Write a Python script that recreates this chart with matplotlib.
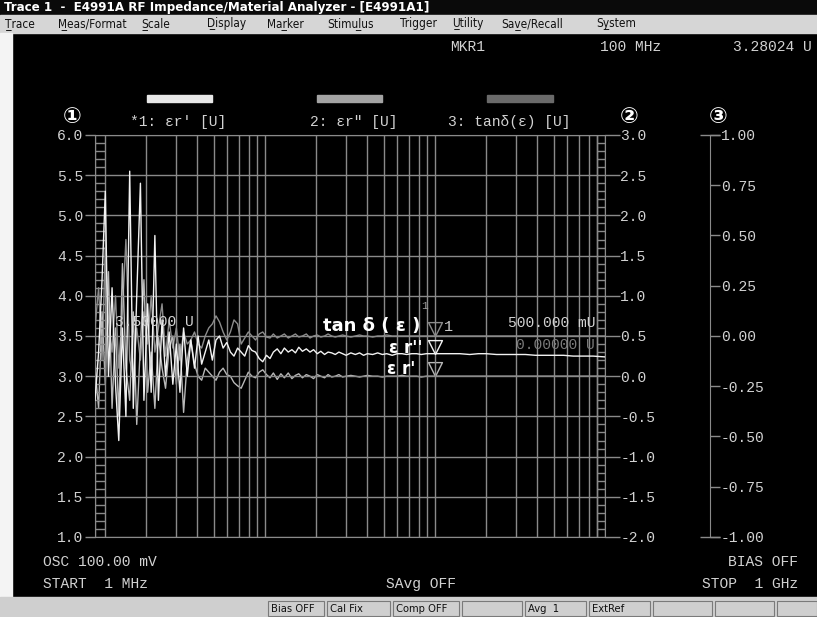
import numpy as np
import matplotlib
matplotlib.use('Agg')
import matplotlib.pyplot as plt
from matplotlib.patches import Rectangle
from matplotlib.path import Path
from matplotlib.ticker import MultipleLocator, FormatStrFormatter, LogLocator, FixedLocator, NullFormatter

plt.rcParams['axes.unicode_minus'] = False

freq_mhz = [
    1.00, 1.05, 1.10, 1.15, 1.20, 1.26, 1.32, 1.38, 1.45, 1.52,
    1.60, 1.68, 1.76, 1.85, 1.94, 2.04, 2.14, 2.25, 2.36, 2.48,
    2.60, 2.73, 2.87, 3.01, 3.16, 3.32, 3.49, 3.66, 3.85, 4.04,
    4.24, 4.45, 4.67, 4.90, 5.15, 5.40, 5.67, 5.96, 6.26, 6.57,
    6.90, 7.24, 7.60, 7.98, 8.38, 8.80, 9.24, 9.70, 10.2, 10.7,
    11.2, 11.8, 12.4, 13.0, 13.7, 14.4, 15.1, 15.8, 16.6, 17.5,
    18.4, 19.3, 20.3, 21.3, 22.4, 23.5, 24.7, 25.9, 27.2, 28.6,
    30.0, 32.0, 34.0, 36.0, 38.0, 40.0, 43.0, 46.0, 49.0, 52.0,
    56.0, 60.0, 64.0, 68.0, 73.0, 78.0, 83.0, 89.0, 95.0, 100.0,
    110, 125, 140, 160, 180, 200, 230, 260, 300, 340,
    390, 440, 500, 570, 650, 740, 850, 1000]

# traco 1: er' [U]
er_real = [
    2.70, 3.30, 4.20, 5.30, 3.00, 4.10, 2.90, 2.20, 3.60, 2.50,
    5.55, 2.60, 4.00, 5.40, 2.70, 3.90, 2.80, 4.75, 2.70, 3.70,
    3.00, 3.55, 2.90, 3.40, 2.80, 3.60, 3.00, 3.45, 3.10, 3.50,
    3.15, 3.30, 3.45, 3.20, 3.45, 3.50, 3.35, 3.42, 3.30, 3.25,
    3.35, 3.30, 3.25, 3.38, 3.32, 3.30, 3.22, 3.18, 3.26, 3.22,
    3.30, 3.34, 3.28, 3.35, 3.30, 3.33, 3.29, 3.36, 3.31, 3.34,
    3.30, 3.33, 3.28, 3.31, 3.27, 3.30, 3.29, 3.27, 3.30, 3.28,
    3.26, 3.29, 3.27, 3.29, 3.26, 3.28, 3.27, 3.29, 3.27, 3.28,
    3.26, 3.28, 3.28, 3.27, 3.28, 3.28, 3.27, 3.28, 3.28, 3.28,
    3.28, 3.28, 3.28, 3.27, 3.28, 3.28, 3.27, 3.27, 3.27, 3.27,
    3.26, 3.26, 3.26, 3.26, 3.25, 3.25, 3.25, 3.24]

# traco 2: er'' [U]
er_imag = [
    0.10, -0.40, 0.80, -0.10, 1.30, -0.40, 0.60, -0.50, 1.40, 0.10,
    -0.30, 0.80, -0.60, 0.40, 1.20, -0.20, 0.30, -0.40, 0.50, 0.10,
    -0.15, 0.35, 0.50, -0.10, 0.40, -0.45, 0.20, 0.45, 0.15, 0.00,
    -0.05, 0.10, 0.05, 0.00, -0.05, 0.05, 0.10, 0.02, 0.00, -0.08,
    -0.12, -0.15, -0.05, 0.05, 0.00, -0.02, 0.05, 0.08, 0.02, -0.02,
    0.04, -0.04, 0.03, -0.02, 0.04, -0.03, 0.01, 0.03, -0.02, 0.02,
    0.00, -0.03, 0.02, 0.00, -0.02, 0.02, -0.01, 0.00, 0.02, -0.01,
    0.00, 0.01, 0.00, -0.01, 0.00, 0.01, 0.00, 0.00, -0.01, 0.00,
    0.00, 0.00, 0.01, 0.00, 0.00, 0.00, -0.01, 0.00, 0.00, 0.00,
    0.00, 0.00, 0.00, 0.00, 0.00, 0.00, 0.00, 0.00, 0.00, 0.00,
    0.00, 0.00, 0.00, 0.00, 0.00, 0.00, 0.00, 0.00]

# traco 3: tan delta(e) [U]
tan_d = [
    0.04, 0.24, -0.12, 0.44, 0.08, -0.08, 0.20, -0.16, 0.12, 0.48,
    -0.12, -0.20, 0.04, -0.12, 0.12, -0.04, 0.20, -0.08, 0.04, 0.16,
    -0.10, 0.08, -0.06, 0.04, -0.12, 0.02, -0.04, -0.02, 0.02, -0.04,
    -0.06, 0.00, 0.04, 0.06, 0.10, 0.07, 0.02, -0.02, 0.02, 0.08,
    0.06, -0.04, -0.01, 0.02, 0.00, -0.02, 0.01, 0.02, -0.005, -0.01,
    0.01, -0.01, 0.00, 0.01, -0.01, 0.00, 0.01, -0.005, 0.00, 0.01,
    -0.01, 0.00, 0.005, -0.005, 0.00, 0.01, 0.00, -0.005, 0.00, 0.005,
    0.00, -0.005, 0.00, 0.005, 0.00, 0.00, -0.005, 0.00, 0.00, 0.005,
    0.00, 0.00, 0.00, 0.00, 0.00, 0.00, 0.00, 0.00, 0.00, 0.00,
    0.00, 0.00, 0.00, 0.00, 0.00, 0.00, 0.00, 0.00, 0.00, 0.00,
    0.00, 0.00, 0.00, 0.00, 0.00, 0.00, 0.00, 0.00]

marker_freq = 100.0
ticks_1 = np.arange(1.0, 6.01, 0.5)
ticks_2 = np.arange(-2.0, 3.01, 0.5)
ticks_3 = np.arange(-1.0, 1.01, 0.25)

# ---- layout em pixels ----
W, H = 817, 617
def fx(x):
    return x / W
def fy(y):
    return 1 - y / H

GRID = '#8a8a8a'
TXT = '#d2d2d2'
MONO = 'Liberation Mono'
C1, C2, C3 = '#f2f2f2', '#b8b8b8', '#8c8c8c'

fig = plt.figure(figsize=(W / 100, H / 100), dpi=100, facecolor='black')

# barra de titulo, menu, borda e barra de status
fig.patches.append(Rectangle((0, fy(15)), 1, 15 / H, transform=fig.transFigure, color='#0a0a0a', zorder=0))
fig.patches.append(Rectangle((0, fy(33)), 1, 18 / H, transform=fig.transFigure, color='#d6d6d6', zorder=0))
fig.patches.append(Rectangle((0, fy(597)), 12 / W, 564 / H, transform=fig.transFigure, color='#f4f4f4', zorder=0))
fig.patches.append(Rectangle((0, 0), 1, 20 / H, transform=fig.transFigure, color='#cfcfcf', zorder=0))

fig.text(fx(4), fy(8), 'Trace 1  -  E4991A RF Impedance/Material Analyzer - [E4991A1]',
         color='white', fontsize=9.5, fontweight='bold', family='DejaVu Sans',
         fontstretch='condensed', va='center', ha='left')

menu = [('Trace', 0, 5), ('Meas/Format', 0, 58), ('Scale', 0, 141), ('Display', 0, 207),
        ('Marker', 2, 267), ('Stimulus', 5, 327), ('Trigger', -1, 400), ('Utility', 0, 452),
        ('Save/Recall', 2, 501), ('System', 1, 596)]
for nome, sub, x in menu:
    if sub >= 0:
        nome = nome[:sub + 1] + '\u0332' + nome[sub + 1:]
    fig.text(fx(x), fy(24), nome, color='#111111', fontsize=8.5,
             family=['DejaVu Sans'], fontstretch='condensed', va='center', ha='left')

# ---- eixos ----
ax1 = fig.add_axes([fx(95), fy(537), 510 / W, 402 / H])
ax1.set_facecolor('black')
ax1.set_xscale('log')
ax1.set_xlim(1, 1000)
ax1.set_ylim(1, 6)
ax1.xaxis.set_major_locator(LogLocator(base=10))
ax1.xaxis.set_minor_locator(LogLocator(base=10, subs=np.arange(2, 10)))
ax1.xaxis.set_minor_formatter(NullFormatter())
ax1.tick_params(axis='x', which='both', length=0, labelbottom=False)
ax1.set_yticks(ticks_1)
ax1.yaxis.set_major_formatter(FormatStrFormatter('%.1f'))
ax1.yaxis.set_minor_locator(MultipleLocator(0.1))
ax1.tick_params(axis='y', which='major', direction='out', length=7.2, width=1, color=GRID,
                labelcolor=TXT, labelsize=10.5, pad=1)
ax1.tick_params(axis='y', which='minor', direction='in', length=7.2, width=1, color=GRID)
for lab in ax1.get_yticklabels():
    lab.set_family(MONO)
ax1.grid(which='major', axis='both', color=GRID, lw=1)
ax1.grid(which='minor', axis='x', color=GRID, lw=1)
for s in ax1.spines.values():
    s.set_color(GRID)
ax1.plot([10 / 510, 10 / 510], [0, 1], transform=ax1.transAxes, color=GRID, lw=1)

ax2 = ax1.twinx()
ax2.set_ylim(-2, 3)
ax2.set_yticks(ticks_2)
ax2.yaxis.set_major_formatter(FormatStrFormatter('%.1f'))
ax2.yaxis.set_minor_locator(MultipleLocator(0.1))
ax2.tick_params(axis='y', which='major', direction='out', length=11, width=1, color=GRID,
                labelcolor=TXT, labelsize=10.5, pad=0)
ax2.tick_params(axis='y', which='minor', direction='in', length=6, width=1, color=GRID)
for lab in ax2.get_yticklabels():
    lab.set_family(MONO)
for s in ax2.spines.values():
    s.set_visible(False)
ax2.plot([1 - 8 / 510, 1 - 8 / 510], [0, 1], transform=ax2.transAxes, color=GRID, lw=1)

ax3 = ax1.twinx()
ax3.set_ylim(-1, 1)
ax3.spines['right'].set_position(('axes', 615 / 510))
for k in ['left', 'top', 'bottom']:
    ax3.spines[k].set_visible(False)
ax3.spines['right'].set_color(GRID)
ax3.set_yticks(ticks_3)
ax3.yaxis.set_major_formatter(FormatStrFormatter('%.2f'))
ax3.yaxis.set_minor_locator(FixedLocator([-1.0, 1.0]))
ax3.yaxis.remove_overlapping_locs = False
ax3.tick_params(axis='y', which='major', direction='out', length=7.2, width=1, color=GRID,
                labelcolor=TXT, labelsize=10.5, pad=0.5)
ax3.tick_params(axis='y', which='minor', direction='inout', length=14.4, width=1, color=GRID)
for lab in ax3.get_yticklabels():
    lab.set_family(MONO)

# ---- tracos ----
ax3.plot(freq_mhz, tan_d, color=C3, lw=1)
ax2.plot(freq_mhz, er_imag, color=C2, lw=1)
ax1.plot(freq_mhz, er_real, color=C1, lw=1, zorder=5)
ax1.set_zorder(3)
ax1.patch.set_visible(False)
ax2.set_zorder(2)
ax3.set_zorder(1)
ax3.patch.set_facecolor('black')

# marcadores no 100 MHz
tri = Path([(-1, 2), (1, 2), (0, 0), (-1, 2)], [Path.MOVETO, Path.LINETO, Path.LINETO, Path.CLOSEPOLY])
i_mk = freq_mhz.index(marker_freq)
ax3.plot([marker_freq], [tan_d[i_mk]], marker=tri, ms=20, mfc='none', mec=C3, mew=1)
ax2.plot([marker_freq], [er_imag[i_mk]], marker=tri, ms=20, mfc='none', mec=C2, mew=1)
ax1.plot([marker_freq], [er_real[i_mk]], marker=tri, ms=20, mfc='none', mec=C1, mew=1, zorder=6)

# ---- textos da tela ----
def tela(x, y, s, ha='left', color=TXT, size=10.5, **kw):
    fig.text(fx(x), fy(y), s, ha=ha, va='center', color=color, fontsize=size, family=MONO, **kw)

tela(450, 47, 'MKR1')
tela(600, 47, '100 MHz')
tela(812, 47, '3.28024 U', ha='right')

for (x0, x1), c in zip([(147, 212), (317, 382), (487, 553)], ['#e8e8e8', '#a4a4a4', '#6a6a6a']):
    fig.patches.append(Rectangle((fx(x0), fy(102)), (x1 - x0) / W, 7 / H,
                                 transform=fig.transFigure, color=c, zorder=1))
tela(130, 122, "*1: \u03b5r' [U]")
tela(310, 122, '2: \u03b5r" [U]')
tela(448, 122, '3: tan\u03b4(\u03b5) [U]')

for x, s in [(72, '\u2460'), (629, '\u2461'), (718, '\u2462')]:
    fig.text(fx(x), fy(117), s, ha='center', va='center', color='white', fontsize=16,
             fontweight='bold', family=['DejaVu Sans', 'Noto Sans CJK JP'])

tela(115, 322, '3.50000 U', zorder=10)
tela(595, 323, '500.000 mU', ha='right')
tela(595, 345, '0.00000 U', ha='right', color='#7a7a7a')
fig.text(fx(323), fy(326), 'tan \u03b4 ( \u03b5 )', color='white', fontsize=13, fontweight='bold',
         family='DejaVu Sans', va='center', ha='left', zorder=10)
fig.text(fx(389), fy(348), "\u03b5 r''", color='white', fontsize=12, fontweight='bold',
         family='DejaVu Sans', va='center', ha='left', zorder=10)
fig.text(fx(387), fy(369), "\u03b5 r'", color='white', fontsize=12, fontweight='bold',
         family='DejaVu Sans', va='center', ha='left', zorder=10)
tela(444, 327, '1', color='#c8c8c8', size=11)
tela(421, 306, '1', color='#9a9a9a', size=8)

tela(43, 562, 'OSC 100.00 mV')
tela(43, 584, 'START  1 MHz')
tela(386, 584, 'SAvg OFF')
tela(798, 562, 'BIAS OFF', ha='right')
tela(798, 584, 'STOP  1 GHz', ha='right')

# ---- barra de status ----
caixas = [(268, 324, 'Bias OFF'), (327, 390, 'Cal Fix'), (393, 459, 'Comp OFF'), (462, 522, ''),
          (525, 586, 'Avg  1'), (589, 650, 'ExtRef'), (653, 712, ''), (715, 774, ''), (777, 817, '')]
for x0, x1, s in caixas:
    fig.patches.append(Rectangle((fx(x0), fy(616)), (x1 - x0) / W, 15 / H, transform=fig.transFigure,
                                 facecolor='#cfcfcf', edgecolor='#7a7a7a', lw=0.8, zorder=1))
    if s:
        fig.text(fx(x0 + 3), fy(609), s, color='#101010', fontsize=8, family='DejaVu Sans',
                 fontstretch='condensed', va='center', ha='left')

fig.savefig('out.png', dpi=100, facecolor='black')
